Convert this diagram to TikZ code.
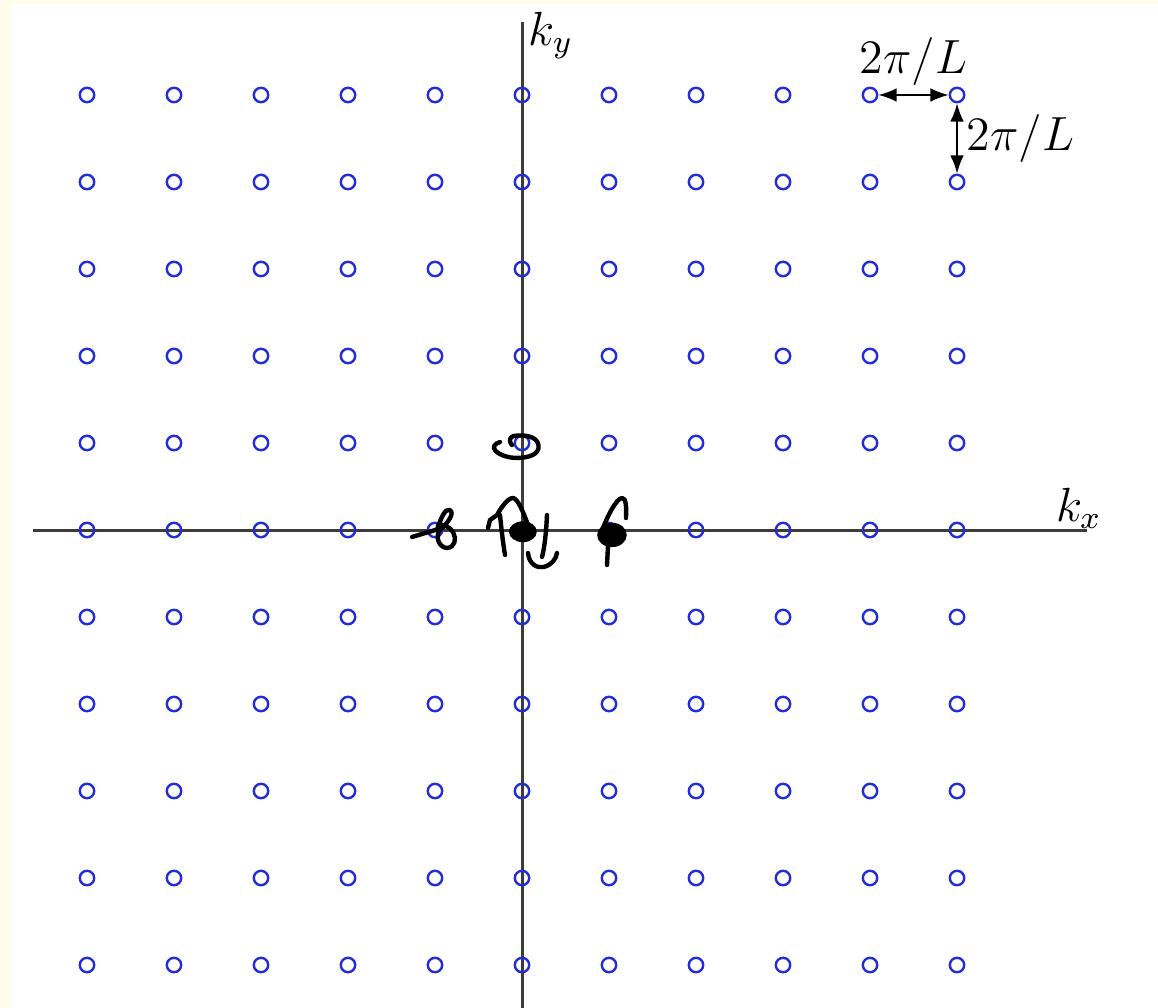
\documentclass[tikz,border=0pt]{standalone}
\usepackage{amsmath,amssymb}
\usetikzlibrary{arrows.meta}
\definecolor{lattBlue} {RGB}{ 35, 45,215}
\definecolor{axisGray} {RGB}{ 60, 60, 60}
\definecolor{pageCream}{RGB}{255,252,234}

\begin{document}
\begin{tikzpicture}[
  x=21.75pt,y=21.75pt,
  every node/.style={font=\large},
  >={Latex[length=1.6mm,width=1.2mm]},
  site/.style={circle,draw=lattBlue,line width=0.6pt,inner sep=0pt,
               minimum size=3.6pt},
  axis/.style={draw=axisGray,line width=0.75pt},
  gap/.style={<->,line width=0.45pt},
  ink/.style={line width=1.1pt,line cap=round,line join=round}
]
% page and margins
\fill[pageCream] (-6.0,-5.494) rectangle (7.310,6.092);
\fill[white] (-5.874,-5.494) rectangle (7.310,6.046);
\useasboundingbox (-6.0,-5.494) rectangle (7.310,6.092);

% axes
\coordinate (xl) at (-5.62,0);
\coordinate (xr) at (6.49,0);
\coordinate (yb) at (0,-5.494);
\coordinate (yt) at (0,5.84);
\draw[axis] (xl) -- (xr);
\draw[axis] (yb) -- (yt);
\node[anchor=south west,inner sep=1pt] (ky) at (0.02,5.36) {$k_y$};
\node[inner sep=1pt] (kx) at (6.4,0.25) {$k_x$};

% lattice of allowed k
\foreach \i in {-5,...,5}
  \foreach \j in {-5,...,5}
    \node[site] (p\i-\j) at (\i,\j) {};

% spacing
\draw[gap] (p4-5) -- (p5-5);
\draw[gap] (p5-5) -- (p5-4);
\node (lh) at (4.5,5.38) {$2\pi/L$};
\node (lv) at (5.73,4.5) {$2\pi/L$};

% hand marks
\draw[ink] (-0.253,1.011) .. controls (-0.40,0.97) and (-0.30,0.85) .. (-0.10,0.83)
  .. controls (0.10,0.82) and (0.20,0.88) .. (0.19,0.97)
  .. controls (0.18,1.08) and (0.02,1.10) .. (-0.10,1.08)
  .. controls (-0.16,1.06) and (-0.14,1.00) .. (-0.115,0.977);
\draw[ink] (-1.264,-0.080) -- (-0.920,0.023);
\draw[ink] (-0.977,0.0) .. controls (-0.93,0.15) and (-0.88,0.25) .. (-0.83,0.23)
  .. controls (-0.77,0.20) and (-0.85,0.08) .. (-0.943,0.0)
  .. controls (-1.00,-0.07) and (-0.96,-0.20) .. (-0.862,-0.207)
  .. controls (-0.77,-0.20) and (-0.75,-0.10) .. (-0.79,-0.03)
  .. controls (-0.82,0.04) and (-0.92,0.07) .. (-0.966,0.057);
\fill[black] (0.01,-0.02) ellipse [x radius=0.16,y radius=0.12];
\draw[ink] (-0.391,0.023) -- (-0.368,0.115) -- (-0.287,0.172)
  .. controls (-0.24,0.26) and (-0.16,0.37) .. (-0.103,0.368)
  .. controls (-0.05,0.36) and (0.01,0.22) .. (0.069,0.057);
\draw[ink] (-0.253,0.172) .. controls (-0.24,0.05) and (-0.22,-0.15) .. (-0.195,-0.287);
\draw[ink] (0.287,0.172) .. controls (0.28,0.0) and (0.26,-0.20) .. (0.230,-0.310);
\draw[ink] (0.069,-0.264) .. controls (0.08,-0.40) and (0.18,-0.44) .. (0.25,-0.425)
  .. controls (0.34,-0.40) and (0.39,-0.34) .. (0.402,-0.264);
\fill[black] (1.034,-0.057) ellipse [x radius=0.17,y radius=0.14];
\draw[ink] (0.931,0.023) .. controls (0.98,0.15) and (1.08,0.36) .. (1.15,0.368)
  .. controls (1.20,0.37) and (1.20,0.25) .. (1.195,0.138);
\draw[ink] (0.989,-0.172) -- (0.977,-0.402);
\end{tikzpicture}
\end{document}
